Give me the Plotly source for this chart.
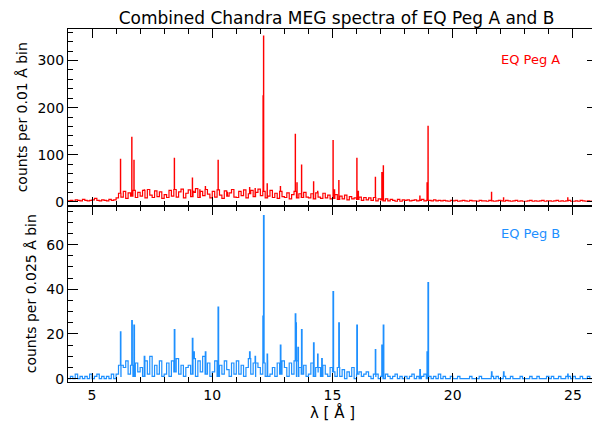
import numpy as np
import plotly.graph_objects as go
from plotly.subplots import make_subplots

# continuum, one value per 0.1 A starting at 4.0 A
wave_start = 4.0
wave_step = 0.1

cont_a = [
    2, 3, 1, 4, 3, 2, 5, 3, 2, 3,
    4, 7, 3, 2, 4, 3, 2, 5, 3, 4,
    8, 18, 10, 22, 7, 19, 12, 24, 9, 20,
    12, 24, 8, 26, 14, 9, 23, 11, 21, 7,
    15, 9, 24, 12, 26, 10, 21, 27, 8, 18,
    25, 11, 20, 28, 9, 22, 13, 26, 16, 8,
    22, 10, 25, 14, 7, 23, 12, 19, 26, 10,
    9, 22, 13, 25, 8, 17, 24, 11, 20, 27,
    13, 22, 8, 12, 24, 9, 18, 7, 22, 11,
    9, 19, 6, 15, 22, 8, 17, 9, 20, 10,
    8, 17, 6, 19, 10, 7, 18, 8, 14, 6,
    7, 15, 5, 12, 6, 14, 4, 11, 6, 8,
    5, 10, 3, 9, 4, 8, 3, 9, 2, 6,
    4, 2, 6, 2, 5, 3, 1, 5, 1, 4,
    3, 4, 2, 3, 4, 2, 3, 5, 2, 3,
    3, 2, 4, 2, 3, 2, 3, 2, 1, 3,
    2, 3, 1, 2, 3, 2, 1, 3, 2, 2,
    1, 3, 2, 2, 1, 3, 2, 1, 2, 3,
    2, 1, 3, 2, 1, 2, 3, 1, 2, 1,
    1, 2, 3, 1, 2, 1, 2, 3, 1, 2,
    2, 1, 2, 3, 1, 2, 1, 2, 3, 1,
    1, 2, 1, 3, 2, 1, 2, 1, 2, 1,
]

cont_b = [
    0, 1, 0, 2, 0, 1, 0, 1, 0, 2,
    0, 1, 2, 0, 1, 0, 1, 0, 2, 0,
    2, 6, 1, 5, 8, 2, 6, 1, 7, 3,
    5, 1, 8, 2, 10, 1, 6, 2, 8, 1,
    2, 7, 1, 8, 3, 9, 2, 6, 1, 5,
    6, 2, 9, 1, 8, 3, 10, 2, 7, 1,
    3, 8, 1, 6, 2, 8, 4, 1, 7, 2,
    8, 2, 6, 1, 5, 9, 2, 7, 1, 5,
    2, 7, 1, 8, 2, 5, 1, 7, 2, 8,
    5, 1, 7, 2, 8, 1, 5, 2, 6, 1,
    2, 7, 1, 5, 3, 1, 6, 2, 1, 5,
    3, 1, 5, 1, 4, 0, 3, 1, 5, 0,
    2, 3, 1, 2, 3, 1, 0, 2, 1, 0,
    1, 0, 2, 1, 0, 1, 2, 0, 1, 0,
    1, 0, 1, 2, 0, 1, 0, 1, 2, 0,
    1, 0, 1, 0, 2, 0, 1, 0, 0, 1,
    0, 0, 1, 0, 0, 0, 0, 1, 0, 0,
    0, 1, 0, 0, 0, 0, 1, 0, 1, 0,
    0, 1, 0, 0, 1, 0, 0, 0, 1, 0,
    0, 0, 1, 0, 0, 1, 0, 0, 0, 1,
    0, 1, 0, 0, 1, 0, 0, 1, 0, 0,
    1, 0, 0, 1, 0, 0, 1, 0, 0, 0,
]

# emission lines: wavelength (A) and peak counts
line_wave_a = [6.18, 6.65, 6.74, 7.17, 8.42, 9.17, 9.23, 9.48, 9.71, 10.24,
               10.62, 11.55, 11.78, 12.11, 12.13, 12.28, 12.83, 13.45, 13.52,
               13.71, 13.83, 14.21, 14.38, 15.02, 15.08, 15.26, 16.01, 16.07,
               16.78, 17.05, 17.11, 18.63, 18.93, 18.97, 21.61, 22.11, 24.78]
line_peak_a = [90, 137, 88, 25, 92, 50, 22, 25, 32, 88,
               20, 30, 28, 225, 352, 38, 32, 143, 40,
               78, 20, 42, 22, 130, 25, 45, 92, 22,
               52, 62, 76, 12, 40, 160, 20, 8, 8]

line_wave_b = [6.18, 6.65, 6.74, 7.17, 8.42, 9.17, 9.23, 9.71, 10.24,
               11.55, 11.78, 12.104, 12.13, 12.28, 12.83, 13.45, 13.49, 13.56,
               13.71, 14.21, 14.38, 14.55, 15.02, 15.26, 16.01, 16.78, 17.05,
               17.11, 18.63, 18.93, 18.97, 21.61, 22.11, 24.78]
line_peak_b = [21, 26, 24, 10, 22, 18, 12, 12, 32,
               12, 10, 28, 73, 11, 15, 29, 25, 14,
               22, 16, 11, 9, 39, 25, 24, 13, 15,
               24, 4, 12, 43, 3, 3, 2]


def spectrum(cont, lw, lp, width):
    xs = list(wave_start + wave_step * np.arange(len(cont)))
    ys = list(cont)
    for w, p in zip(lw, lp):
        i = int(np.floor((w - wave_start) / wave_step + 1e-6))
        xs += [w, w + width]
        ys += [p, cont[i]]
    xs.append(wave_start + wave_step * len(cont))
    ys.append(cont[-1])
    order = np.argsort(xs, kind="stable")
    return np.array(xs)[order], np.array(ys)[order]


xa, ya = spectrum(cont_a, line_wave_a, line_peak_a, 0.01)
xb, yb = spectrum(cont_b, line_wave_b, line_peak_b, 0.025)

fig = make_subplots(rows=2, cols=1, shared_xaxes=True, vertical_spacing=0)
fig.add_trace(go.Scatter(x=xa, y=ya, mode="lines", line_shape="hv",
                         line=dict(color="#ff0000", width=1.2)), row=1, col=1)
fig.add_trace(go.Scatter(x=xb, y=yb, mode="lines", line_shape="hv",
                         line=dict(color="#1e90ff", width=1.2)), row=2, col=1)

axis_style = dict(showline=True, linecolor="black", linewidth=1, mirror="allticks",
                  ticks="inside", tickcolor="black", showgrid=False, zeroline=False,
                  automargin=False, tickfont=dict(size=14, color="black"))

fig.update_xaxes(range=[4, 26], tick0=0, dtick=5, ticklen=9,
                 minor=dict(dtick=1, ticks="inside", ticklen=5, tickcolor="black"),
                 **axis_style)
fig.update_xaxes(title=dict(text="λ [ Å ]", font=dict(size=15, color="black"), standoff=0),
                 row=2, col=1)
fig.update_yaxes(range=[-8, 367], tick0=0, dtick=100, ticklen=10,
                 minor=dict(dtick=20, ticks="inside", ticklen=5, tickcolor="black"),
                 title=dict(text="counts per 0.01 Å bin", font=dict(size=14, color="black"),
                            standoff=6),
                 row=1, col=1, **axis_style)
fig.update_yaxes(range=[-1.5, 77.5], tick0=0, dtick=20, ticklen=10,
                 minor=dict(dtick=5, ticks="inside", ticklen=5, tickcolor="black"),
                 title=dict(text="counts per 0.025 Å bin", font=dict(size=14, color="black"),
                            standoff=6),
                 row=2, col=1, **axis_style)

fig.add_annotation(x=23.25, y=303, xref="x", yref="y", text="EQ Peg A", showarrow=False,
                   font=dict(size=13, color="#ff0000"))
fig.add_annotation(x=23.25, y=65, xref="x2", yref="y2", text="EQ Peg B", showarrow=False,
                   font=dict(size=13, color="#1e90ff"))

# page body adds an 8px offset, so the figure is sized to the rest of the window
fig.update_layout(
    width=592, height=418,
    margin=dict(l=60, r=3, t=21, b=44),
    paper_bgcolor="white", plot_bgcolor="white",
    font=dict(family="DejaVu Sans", color="black"),
    showlegend=False,
    title=dict(text="Combined Chandra MEG spectra of EQ Peg A and B", x=0.555, xanchor="center",
               y=0.975, yanchor="middle", font=dict(size=17, color="black")),
)
fig.write_html("out.html")
